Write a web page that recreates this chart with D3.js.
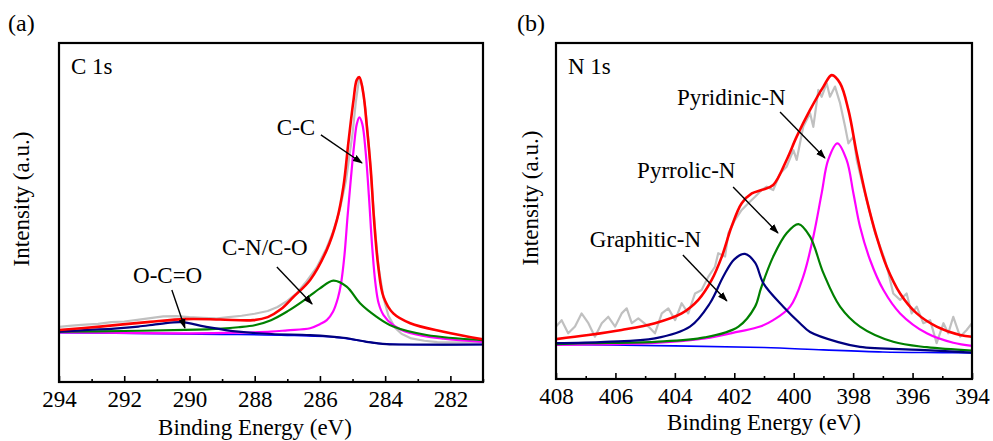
<!DOCTYPE html>
<html>
<head>
<meta charset="utf-8">
<script src="https://cdn.jsdelivr.net/npm/d3@7"></script>
<style>
	body { margin: 0; background: #fff; }
	svg text { font-family: "Liberation Serif", "Times New Roman", serif; fill: #000; }
</style>
</head>
<body>
<svg id="xps-plot" width="993" height="441"></svg>
<script>

// ---- C 1s (binding energy eV, intensity a.u.) ----
const c1s_major_ticks = [294, 292, 290, 288, 286, 284, 282];
const c1s_minor_ticks = [293, 291, 289, 287, 285, 283, 281];

const c1s_raw = [[294,16.0],[293.6,16.4],[293.2,16.7],[292.8,16.9],[292.4,17.4],[292,17.6],[291.6,18.1],[291.2,18.6],
	[290.8,19.1],[290.4,19.2],[290,18.9],[289.6,18.7],[289.2,18.5],[288.8,18.9],[288.4,19.3],[288,19.9],[287.6,20.7],
	[287.3,21.9],[287,23.7],[286.7,26.1],[286.4,29.6],[286.1,33.6],[285.8,39.2],[285.6,44.1],[285.4,50.3],[285.2,59.4],
	[285,73.2],[284.9,82.5],[284.8,89.4],[284.7,87.2],[284.6,80.1],[284.5,69.8],[284.4,56.5],[284.3,43.8],[284.2,33.5],
	[284.05,24.6],[283.9,19.3],[283.7,15.8],[283.5,14.0],[283.2,12.6],[282.8,11.9],[282.4,11.5],[282,11.4],[281.5,11.4],[281,11.5]];

const c1s_envelope = [[294,15.1],[292.74,16.1],[291.21,17.5],[290.13,18.3],[289.06,18.2],[288.05,18.0],[287.6,18.9],
	[287.2,21.2],[286.81,24.9],[286.3,29.9],[285.79,38.8],[285.48,47.6],[285.28,57.5],[285.13,70.3],[284.97,83.1],
	[284.87,89.1],[284.79,89.9],[284.67,85.1],[284.56,75.2],[284.44,62.4],[284.34,47.6],[284.21,33.8],[284.05,24.9],
	[283.75,20.0],[283.23,17.1],[282.21,14.6],[281,12.3]];

const c1s_cc = [[294,14.4],[292,14.2],[290,14.1],[288.5,14.3],[287.5,14.6],[287,15.0],[286.3,15.6],[286,16.8],
	[285.79,18.0],[285.6,20.5],[285.45,24.5],[285.35,29],[285.25,37],[285.15,49],[285.05,60],[284.95,70],[284.87,76],
	[284.79,78],[284.7,76],[284.6,68],[284.5,55],[284.4,40],[284.3,29],[284.2,23],[284.05,19.5],[283.75,16.5],
	[283.24,14.2],[282.22,12.5],[281,11.6]];

const c1s_cn = [[294,14.6],[292,14.8],[290.14,15.1],[289,15.5],[288.5,15.9],[288,16.5],[287.5,18.0],[287,20.6],
	[286.5,23.8],[286,27.4],[285.59,29.7],[285.18,27.9],[284.77,23.0],[284.26,19.0],[283.75,16.1],[282.73,13.6],[281,12.1]];

const c1s_occo = [[294,14.6],[293.1,15.1],[292.3,15.5],[291.57,16.1],[290.9,16.9],[290.24,17.4],[289.52,16.1],
	[288.5,14.6],[287.48,13.9],[286.3,13.6],[285.28,12.8],[284.57,11.6],[283.95,10.9],[283.24,10.8],[281,10.8]];

const c1s_background = [[294,14.3],[291,14.0],[289,13.8],[287,13.5],[285.5,12.9],[284.8,12.0],[284.2,11.1],[283.5,10.8],[281,10.8]];

// ---- N 1s ----
const n1s_major_ticks = [408, 406, 404, 402, 400, 398, 396, 394];
const n1s_minor_ticks = [407, 405, 403, 401, 399, 397, 395];

const n1s_raw = [[408,16.1],[407.81,18.0],[407.59,14.1],[407.36,16.1],[407.14,20.0],[406.91,17.1],[406.69,13.1],
	[406.46,17.1],[406.24,19.0],[406.01,16.1],[405.79,20.0],[405.62,21.5],[405.45,17.1],[405.23,18.5],[404.89,16.1],
	[404.67,14.1],[404.44,20.0],[404.22,21.5],[403.99,18.0],[403.77,23.0],[403.55,20.0],[403.32,25.9],[403.1,26.9],
	[402.87,30.9],[402.65,33.8],[402.54,37.8],[402.31,36.8],[402.2,43.7],[401.98,47.6],[401.75,50.6],[401.53,52.6],
	[401.3,54.5],[401.08,56.5],[400.91,57.5],[400.69,56.5],[400.46,61.4],[400.24,63.4],[400.01,68.3],[399.9,65.4],
	[399.68,75.2],[399.45,79.2],[399.34,75.2],[399.17,86.1],[399.06,84.1],[398.89,88.1],[398.78,84.1],[398.61,87.1],
	[398.44,82.2],[398.27,75.2],[398.16,70.3],[397.99,72.3],[397.88,65.4],[397.77,61.4],[397.66,57.5],[397.43,49.6],
	[397.26,43.7],[397.09,39.7],[396.93,35.8],[396.81,31.9],[396.65,25.9],[396.42,24.0],[396.2,25.9],[396.03,20.0],
	[395.86,22.0],[395.64,17.1],[395.41,18.0],[395.19,11.2],[394.96,17.1],[394.8,14.1],[394.63,19.0],[394.4,13.1],
	[394.18,15.1],[394,17.1]];

const n1s_envelope = [[408,12.4],[406.91,13.6],[405.79,15.1],[404.67,17.1],[403.77,20.0],[403.21,24.0],[402.76,29.9],
	[402.42,36.8],[402.09,45.7],[401.75,52.6],[401.41,55.5],[401.08,56.5],[400.69,58.0],[400.24,65.4],[399.9,72.3],
	[399.45,80.2],[399,87.1],[398.72,90.5],[398.44,88.1],[398.16,80.2],[397.88,67.4],[397.54,53.6],[397.21,42.7],
	[396.87,33.8],[396.42,25.9],[395.86,20.0],[395.19,16.1],[394.4,13.6],[394,13.1]];

const n1s_pyridinic = [[408,10.7],[406.91,10.8],[404.67,11.3],[402.99,12.6],[401.86,14.6],[401.13,16.1],[400.69,18.0],
	[400.12,22.0],[399.68,30.9],[399.34,42.7],[399.06,55.5],[398.84,65.4],[398.53,70.3],[398.22,65.4],[397.99,55.5],
	[397.77,45.7],[397.43,35.8],[396.98,26.9],[396.42,20.0],[395.52,14.1],[394.63,11.3],[394,10.4]];

const n1s_pyrrolic = [[408,10.9],[406.91,11.2],[404.67,11.6],[402.99,12.9],[401.86,16.1],[401.3,22.0],[401.1,27.5],
	[400.69,36.8],[400.24,43.7],[399.84,46.4],[399.45,42.7],[399,31.9],[398.44,22.0],[397.77,16.1],[396.65,11.6],
	[395.52,10.0],[394,9.0]];

const n1s_graphitic = [[408,11.2],[406.35,11.6],[404.67,12.6],[403.49,16.1],[402.82,23.0],[402.37,30.9],[402,36],
	[401.64,37.6],[401.3,35],[401.02,28.9],[400.35,22.0],[399.79,17.1],[399.45,14.5],[398.5,11.5],[397.77,10.1],
	[395.75,9.2],[394,8.4]];

const n1s_background = [[408,10.8],[404,10.4],[401,9.9],[399,9.2],[397,8.6],[395,8.4],[394,8.3]];

const serif_font = '"Liberation Serif", "Times New Roman", serif';


function drawPanel(svg, cfg) {

	const x = d3.scaleLinear()
		.domain(cfg.domain)
		.range([cfg.frame.left, cfg.frame.right]);

	const y = d3.scaleLinear()
		.domain([0, 100])
		.range([381, 43]);

	const clip_id = "clip-" + cfg.id;
	svg.append("defs").append("clipPath")
		.attr("id", clip_id)
		.append("rect")
		.attr("x", cfg.frame.left)
		.attr("y", cfg.frame.top)
		.attr("width", cfg.frame.right - cfg.frame.left)
		.attr("height", cfg.frame.bottom - cfg.frame.top);

	const g = svg.append("g")
		.attr("font-family", serif_font);

	const smooth_line = d3.line()
		.x(d => x(d[0]))
		.y(d => y(d[1]))
		.curve(d3.curveCatmullRom.alpha(0.5));

	const raw_line = d3.line()
		.x(d => x(d[0]))
		.y(d => y(d[1]));

	const curves_g = g.append("g").attr("clip-path", "url(#" + clip_id + ")");

	curves_g.selectAll(".curve")
		.data(cfg.series)
		.enter()
		.append("path")
		.classed("curve", true)
		.attr("d", s => s.raw ? raw_line(s.data) : smooth_line(s.data))
		.attr("fill", "none")
		.attr("stroke", s => s.color)
		.attr("stroke-width", s => s.width)
		.attr("stroke-linejoin", "round");

	// frame
	g.append("rect")
		.attr("x", cfg.frame.left)
		.attr("y", cfg.frame.top)
		.attr("width", cfg.frame.right - cfg.frame.left)
		.attr("height", cfg.frame.bottom - cfg.frame.top)
		.attr("fill", "none")
		.attr("stroke", "black")
		.attr("stroke-width", 2.2);

	// ticks point inward
	const major_axis = d3.axisBottom(x)
		.tickValues(cfg.major_ticks)
		.tickSize(-6)
		.tickPadding(9)
		.tickFormat(d3.format("d"));

	const axis_g = g.append("g")
		.attr("transform", "translate(0," + cfg.frame.bottom + ")")
		.call(major_axis)
		.attr("font-family", serif_font)
		.attr("font-size", 23);
	axis_g.select(".domain").remove();
	axis_g.selectAll("line").attr("stroke-width", 1.6);

	const minor_g = g.append("g")
		.attr("transform", "translate(0," + cfg.frame.bottom + ")")
		.call(d3.axisBottom(x).tickValues(cfg.minor_ticks).tickSize(-3).tickFormat(""));
	minor_g.select(".domain").remove();
	minor_g.selectAll("line").attr("stroke-width", 1.6);

	// titles
	g.append("text")
		.attr("x", cfg.xtitle_pos[0])
		.attr("y", cfg.xtitle_pos[1])
		.attr("text-anchor", "middle")
		.attr("font-size", 23)
		.text("Binding Energy (eV)");

	g.append("text")
		.attr("transform", "translate(" + cfg.ytitle_pos[0] + "," + cfg.ytitle_pos[1] + ") rotate(-90)")
		.attr("text-anchor", "middle")
		.attr("font-size", 23)
		.text("Intensity (a.u.)");

	g.append("text")
		.attr("x", cfg.letter_pos[0])
		.attr("y", cfg.letter_pos[1])
		.attr("font-size", 24)
		.text(cfg.letter);

	g.append("text")
		.attr("x", cfg.frame.left + 12)
		.attr("y", cfg.frame.top + 31)
		.attr("font-size", 23)
		.text(cfg.core_level);

	// annotations (positions in data units)
	const ann_g = g.append("g");
	ann_g.selectAll(".ann-label")
		.data(cfg.annotations)
		.enter()
		.append("text")
		.classed("ann-label", true)
		.attr("x", a => x(a.text_at[0]))
		.attr("y", a => y(a.text_at[1]))
		.attr("font-size", 23)
		.text(a => a.text);

	ann_g.selectAll(".ann-arrow")
		.data(cfg.annotations)
		.enter()
		.append("line")
		.classed("ann-arrow", true)
		.attr("x1", a => x(a.from[0]))
		.attr("y1", a => y(a.from[1]))
		.attr("x2", a => x(a.to[0]))
		.attr("y2", a => y(a.to[1]))
		.attr("stroke", "black")
		.attr("stroke-width", 1.4)
		.attr("marker-end", "url(#arrow-head)");
}

whenDocumentLoaded(() => {
	const svg = d3.select("#xps-plot");

	svg.append("defs").append("marker")
		.attr("id", "arrow-head")
		.attr("viewBox", "0 -4 10 8")
		.attr("refX", 9)
		.attr("refY", 0)
		.attr("markerUnits", "userSpaceOnUse")
		.attr("markerWidth", 10)
		.attr("markerHeight", 8)
		.attr("orient", "auto")
		.append("path")
		.attr("d", "M0,-3.5L10,0L0,3.5Z")
		.attr("fill", "black");

	drawPanel(svg, {
		id: "c1s",
		frame: {left: 59, right: 483, top: 43, bottom: 382},
		domain: [294, 281],
		major_ticks: c1s_major_ticks,
		minor_ticks: c1s_minor_ticks,
		xtitle_pos: [255, 435],
		ytitle_pos: [29, 199],
		letter: "(a)",
		letter_pos: [8, 31],
		core_level: "C 1s",
		series: [
			{data: c1s_raw, color: "#c0c0c0", width: 2.2, raw: true},
			{data: c1s_background, color: "#0000ff", width: 1.6},
			{data: c1s_cc, color: "#ff00ff", width: 2.2},
			{data: c1s_cn, color: "#008000", width: 2.2},
			{data: c1s_occo, color: "#000080", width: 2.2},
			{data: c1s_envelope, color: "#ff0000", width: 2.6}
		],
		annotations: [
			{text: "C-C", text_at: [287.32, 72.8], from: [285.97, 72.8], to: [284.71, 64.5]},
			{text: "C-N/C-O", text_at: [289.0, 37.3], from: [287.32, 33.7], to: [286.24, 22.8]},
			{text: "O-C=O", text_at: [291.73, 29.0], from: [290.54, 26.9], to: [290.14, 15.7]}
		]
	});

	drawPanel(svg, {
		id: "n1s",
		frame: {left: 556, right: 972, top: 43, bottom: 379},
		domain: [408, 394],
		major_ticks: n1s_major_ticks,
		minor_ticks: n1s_minor_ticks,
		xtitle_pos: [764, 430],
		ytitle_pos: [538, 198],
		letter: "(b)",
		letter_pos: [517, 31],
		core_level: "N 1s",
		series: [
			{data: n1s_raw, color: "#c0c0c0", width: 2.2, raw: true},
			{data: n1s_background, color: "#0000ff", width: 1.6},
			{data: n1s_pyridinic, color: "#ff00ff", width: 2.2},
			{data: n1s_pyrrolic, color: "#008000", width: 2.2},
			{data: n1s_graphitic, color: "#000080", width: 2.2},
			{data: n1s_envelope, color: "#ff0000", width: 2.6}
		],
		annotations: [
			{text: "Pyridinic-N", text_at: [403.93, 81.7], from: [400.46, 79.6], to: [398.95, 66.0]},
			{text: "Pyrrolic-N", text_at: [405.27, 60.1], from: [402.04, 57.4], to: [400.53, 43.8]},
			{text: "Graphitic-N", text_at: [406.86, 39.6], from: [403.73, 37.3], to: [402.25, 23.7]}
		]
	});
});

function whenDocumentLoaded(action) {
	if (document.readyState === "loading") {
		document.addEventListener("DOMContentLoaded", action);
	} else {
		action();
	}
}
</script>
</body>
</html>
